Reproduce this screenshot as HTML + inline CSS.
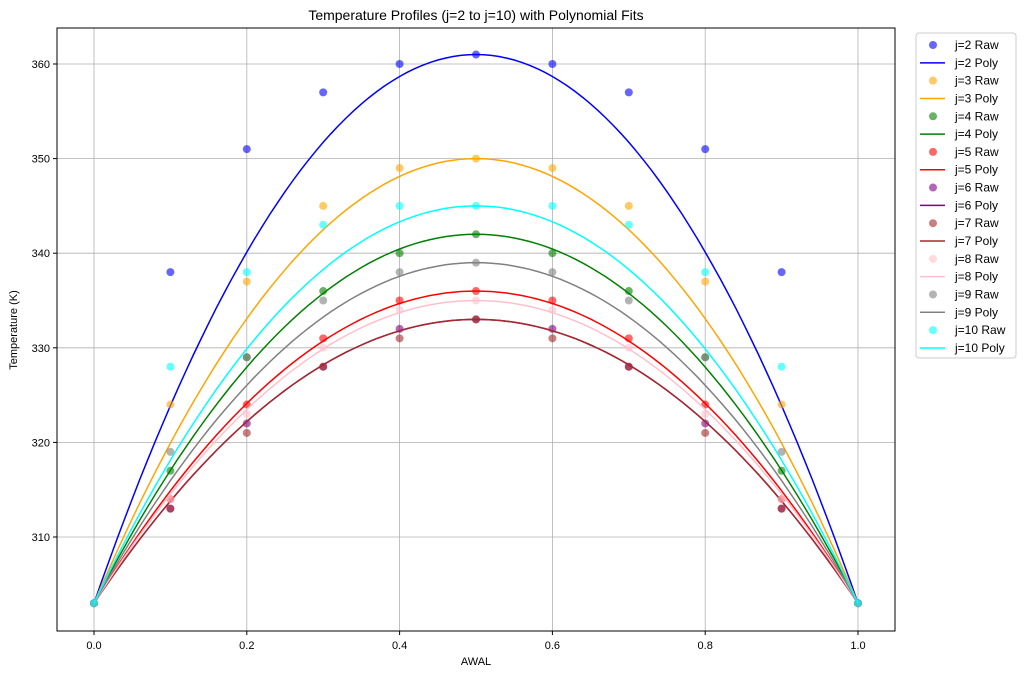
<!DOCTYPE html>
<html><head><meta charset="utf-8"><style>
body{margin:0;background:#fff;}
svg text{font-family:"Liberation Sans","DejaVu Sans",sans-serif;}
</style></head><body>
<svg id="s" width="1024" height="676" xmlns="http://www.w3.org/2000/svg"></svg>
<script>
const s=document.getElementById('s');
const X=v=>94+v*764, Y=v=>537-(v-310)*9.46;
let h='<rect width="1024" height="676" fill="#fff"/>';
h+='<text x="476" y="20" font-size="14" text-anchor="middle">Temperature Profiles (j=2 to j=10) with Polynomial Fits</text>';
for(let i=0;i<=5;i++){const x=X(i/5);h+=`<line x1="${x}" y1="28" x2="${x}" y2="631" stroke="#b0b0b0" stroke-width="0.8"/>`;
h+=`<line x1="${x}" y1="631" x2="${x}" y2="635" stroke="#000"/><text x="${x}" y="649" font-size="11" text-anchor="middle">${(i/5).toFixed(1)}</text>`;}
for(let v=310;v<=360;v+=10){const y=Y(v);h+=`<line x1="57" y1="${y}" x2="895" y2="${y}" stroke="#b0b0b0" stroke-width="0.8"/>`;
h+=`<line x1="53" y1="${y}" x2="57" y2="${y}" stroke="#000"/><text x="50" y="${y+4}" font-size="11" text-anchor="end">${v}</text>`;}
h+='<text x="476" y="665" font-size="11" text-anchor="middle">AWAL</text>';
h+='<text transform="translate(17,330) rotate(-90)" font-size="11" text-anchor="middle">Temperature (K)</text>';
const S=[
['j=2','#0000ff',[338,351,357,360,361]],
['j=3','#ffa500',[324,337,345,349,350]],
['j=4','#008000',[317,329,336,340,342]],
['j=5','#ff0000',[314,324,331,335,336]],
['j=6','#800080',[313,322,328,332,333]],
['j=7','#a52a2a',[313,321,328,331,333]],
['j=8','#ffc0cb',[314,323,330,334,335]],
['j=9','#808080',[319,329,335,338,339]],
['j=10','#00ffff',[328,338,343,345,345]]];
S.forEach(([n,c,d])=>{
 const full=[303,...d,d[3],d[2],d[1],d[0],303];
 full.forEach((v,i)=>{h+=`<circle cx="${X(i/10)}" cy="${Y(v)}" r="4" fill="${c}" fill-opacity="0.6"/>`;});
 const a=(d[4]-303)*4;let p='';
 for(let k=0;k<=100;k++){const x=k/100;p+=(k?'L':'M')+X(x).toFixed(1)+','+Y(303+a*x*(1-x)).toFixed(1);}
 h+=`<path d="${p}" fill="none" stroke="${c}" stroke-width="1.5"/>`;
});
h+='<rect x="57" y="28" width="838" height="603" fill="none" stroke="#000" stroke-width="1"/>';
h+='<rect x="916" y="33" width="100" height="325" rx="3" fill="#fff" stroke="#ccc"/>';
let ly=45;const st=17.82;
S.forEach(([n,c])=>{
 h+=`<circle cx="933" cy="${ly}" r="4" fill="${c}" fill-opacity="0.6"/><text x="955" y="${ly+4}" font-size="12">${n} Raw</text>`;ly+=st;
 h+=`<line x1="920" y1="${ly}" x2="945" y2="${ly}" stroke="${c}" stroke-width="1.5"/><text x="955" y="${ly+4}" font-size="12">${n} Poly</text>`;ly+=st;
});
s.innerHTML=h;
</script>
</body></html>
